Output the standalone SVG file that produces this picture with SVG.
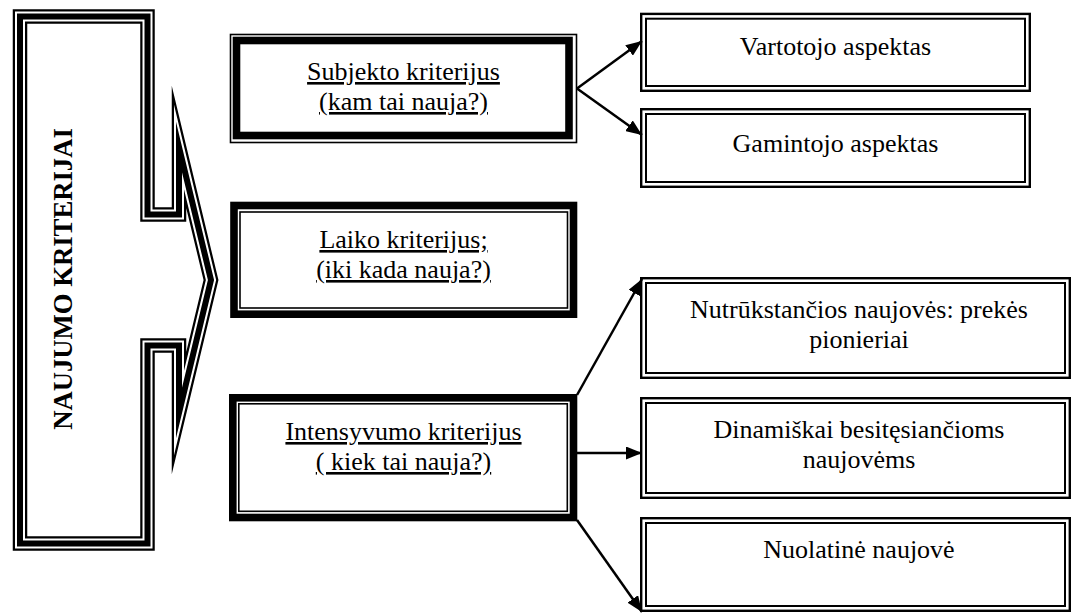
<svg xmlns="http://www.w3.org/2000/svg" width="1073" height="616" viewBox="0 0 1073 616">
<defs>
<marker id="ah" markerUnits="userSpaceOnUse" markerWidth="17" markerHeight="13" refX="16" refY="6.5" orient="auto">
<path d="M0,0 L16,6.5 L0,13 Z" fill="#000"/>
</marker>
<style>
text{font-family:"Liberation Serif","Times New Roman",serif;font-size:26px;fill:#000;text-anchor:middle}
.u{text-decoration:underline}
.b{font-weight:bold}
.thin{fill:none;stroke:#000;stroke-width:1.6}
.thick{fill:none;stroke:#000;stroke-width:7.6}
.dbl{fill:none;stroke:#000;stroke-width:2.4}
.dbli{fill:none;stroke:#000;stroke-width:2}
.conn{stroke:#000;stroke-width:2.5;fill:none}
</style>
</defs>
<rect width="1073" height="616" fill="#fff"/>

<g id="naujumo-kriterijai">
<path d="M20,16.5 H147.5 V214.5 H179 V147 L211,280 L179,413 V345.5 H147.5 V543.5 H20 Z" fill="#fff" stroke="#000" stroke-width="14.5" stroke-linejoin="miter" stroke-miterlimit="12"/>
<path d="M20,16.5 H147.5 V214.5 H179 V147 L211,280 L179,413 V345.5 H147.5 V543.5 H20 Z" fill="none" stroke="#fff" stroke-width="10" stroke-linejoin="miter" stroke-miterlimit="12"/>
<path d="M20,16.5 H147.5 V214.5 H179 V147 L211,280 L179,413 V345.5 H147.5 V543.5 H20 Z" fill="none" stroke="#000" stroke-width="6" stroke-linejoin="miter" stroke-miterlimit="12"/>
<text class="b" font-family="'Liberation Serif', serif" style="font-size:26.7px" transform="translate(72,279) rotate(-90)">NAUJUMO KRITERIJAI</text>
</g>

<g id="subjekto">
<rect class="thin" x="230.5" y="34.5" width="346" height="108"/>
<rect class="thick" x="236.5" y="40.5" width="332.5" height="95"/>
<text class="u" font-family="'Liberation Serif', serif" x="403.5" y="80">Subjekto kriterijus</text>
<text class="u" font-family="'Liberation Serif', serif" x="403.5" y="110">(kam tai nauja?)</text>
</g>

<g id="laiko">
<rect class="thick" x="234" y="205.5" width="339.5" height="108.7"/>
<rect class="thin" x="240" y="212" width="327.5" height="96"/>
<text class="u" font-family="'Liberation Serif', serif" x="403.5" y="248">Laiko kriterijus;</text>
<text class="u" font-family="'Liberation Serif', serif" x="403.5" y="278">(iki kada nauja?)</text>
</g>

<g id="intensyvumo">
<rect class="thick" x="232.8" y="397.8" width="340.7" height="119.7"/>
<rect class="thin" x="238.8" y="403.8" width="328.5" height="107.5"/>
<text class="u" font-family="'Liberation Serif', serif" x="403.5" y="440">Intensyvumo kriterijus</text>
<text class="u" font-family="'Liberation Serif', serif" x="403.5" y="470">( kiek tai nauja?)</text>
</g>

<g id="vartotojo">
<rect class="dbl" x="641.2" y="13.9" width="388.6" height="76.9"/>
<rect class="dbli" x="646" y="18.7" width="379" height="67.3"/>
<text font-family="'Liberation Serif', serif" x="835.5" y="55">Vartotojo aspektas</text>
</g>

<g id="gamintojo">
<rect class="dbl" x="641.2" y="109.2" width="388.6" height="77.6"/>
<rect class="dbli" x="646" y="114" width="379" height="68"/>
<text font-family="'Liberation Serif', serif" x="835.5" y="152">Gamintojo aspektas</text>
</g>

<g id="nutrukstancios">
<rect class="dbl" x="641.2" y="278.2" width="428.6" height="99.6"/>
<rect class="dbli" x="646" y="283" width="419" height="90"/>
<text font-family="'Liberation Serif', serif" x="859" y="318">Nutrūkstančios naujovės: prekės</text>
<text font-family="'Liberation Serif', serif" x="859" y="348">pionieriai</text>
</g>

<g id="dinamiskai">
<rect class="dbl" x="641.2" y="398.2" width="428.6" height="99.6"/>
<rect class="dbli" x="646" y="403" width="419" height="90"/>
<text font-family="'Liberation Serif', serif" x="859" y="438">Dinamiškai besitęsiančioms</text>
<text font-family="'Liberation Serif', serif" x="859" y="468">naujovėms</text>
</g>

<g id="nuolatine">
<rect class="dbl" x="641.2" y="518.2" width="428.6" height="92.6"/>
<rect class="dbli" x="646" y="523" width="419" height="83"/>
<text font-family="'Liberation Serif', serif" x="859" y="558">Nuolatinė naujovė</text>
</g>

<g id="connectors">
<line class="conn" x1="577" y1="88.5" x2="642" y2="41" marker-end="url(#ah)"/>
<line class="conn" x1="577" y1="88.5" x2="642" y2="135" marker-end="url(#ah)"/>
<line class="conn" x1="577" y1="395" x2="642" y2="279" marker-end="url(#ah)"/>
<line class="conn" x1="577" y1="453" x2="642" y2="453" marker-end="url(#ah)"/>
<line class="conn" x1="577" y1="520" x2="642" y2="612" marker-end="url(#ah)"/>
</g>
</svg>
